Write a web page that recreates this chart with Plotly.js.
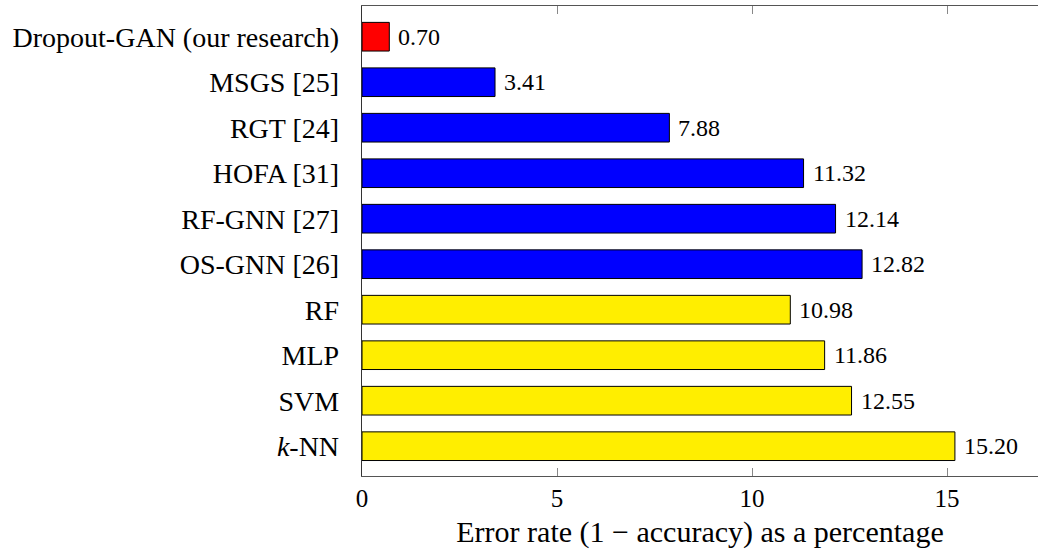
<!DOCTYPE html>
<html>
<head>
<meta charset="utf-8">
<script src="https://cdn.plot.ly/plotly-3.0.1.min.js"></script>
<style>html,body{margin:0;padding:0;background:#fff;}#chart{width:1038px;height:550px;}</style>
</head>
<body>
<div id="chart"></div>
<script>
const methods = ["Dropout-GAN (our research)", "MSGS [25]", "RGT [24]", "HOFA [31]", "RF-GNN [27]", "OS-GNN [26]", "RF", "MLP", "SVM", "<i>k</i>-NN"];
const errorRates = [0.70, 3.41, 7.88, 11.32, 12.14, 12.82, 10.98, 11.86, 12.55, 15.20];
const groups = ["ours", "graph", "graph", "graph", "graph", "graph", "classic", "classic", "classic", "classic"];
const xTicks = [0, 5, 10, 15];

const groupColors = {ours: "#ff0000", graph: "#0000ff", classic: "#ffee00"};
const ids = methods.map((m, i) => "c" + i);

const trace = {
  type: "bar",
  orientation: "h",
  x: errorRates,
  y: ids,
  width: 0.63,
  marker: {color: groups.map(g => groupColors[g]), line: {color: "#000", width: 1}},
  hoverinfo: "skip"
};

const annotations = errorRates.map((v, i) => ({
  x: v, y: ids[i], xref: "x", yref: "y",
  text: v.toFixed(2), showarrow: false,
  xanchor: "left", yanchor: "middle", xshift: 7,
  font: {family: "Liberation Serif, serif", size: 24, color: "#000"}
}));

const layout = {
  width: 1038, height: 550,
  margin: {l: 362, r: 0, t: 6, b: 74},
  paper_bgcolor: "#fff", plot_bgcolor: "#fff",
  showlegend: false,
  font: {family: "Liberation Serif, serif", size: 24, color: "#000"},
  xaxis: {
    range: [0, 17.33],
    tickvals: xTicks,
    ticktext: xTicks.map(String),
    ticks: "inside", ticklen: 8, tickcolor: "#888", tickwidth: 1,
    showline: true, linecolor: "#555", linewidth: 1.3, mirror: "allticks",
    showgrid: false, zeroline: false,
    ticklabelstandoff: 0,
    tickfont: {size: 25},
    title: {text: "Error rate (1 \u2212 accuracy) as a percentage", font: {size: 30}, standoff: 9}
  },
  yaxis: {
    type: "category",
    range: [9.655, -0.675],
    tickvals: ids,
    ticktext: methods,
    ticks: "", showline: true, linecolor: "#333", linewidth: 1.3,
    showgrid: false, zeroline: false,
    ticklabelstandoff: 16,
    tickfont: {size: 28}
  },
  annotations: annotations
};

Plotly.newPlot("chart", [trace], layout, {displayModeBar: false, staticPlot: true});
</script>
</body>
</html>
